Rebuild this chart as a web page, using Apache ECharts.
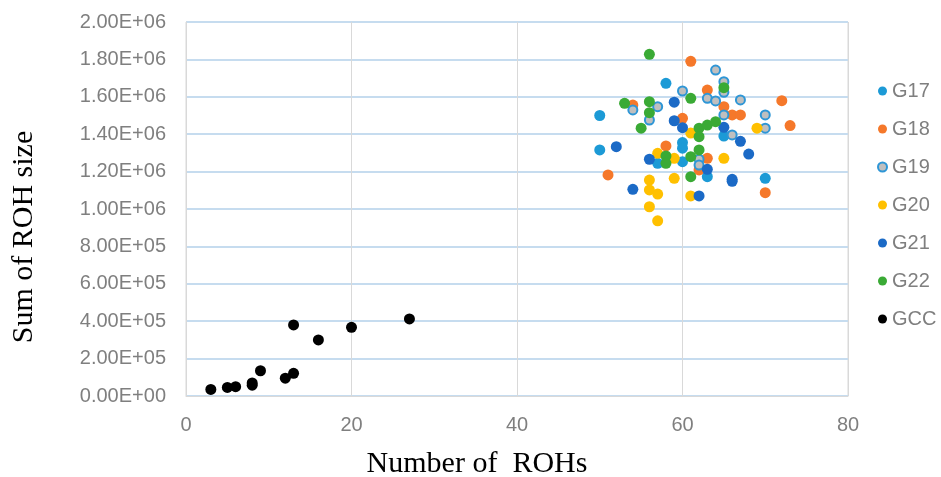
<!DOCTYPE html>
<html><head><meta charset="utf-8">
<script src="https://cdn.jsdelivr.net/npm/echarts@6/dist/echarts.min.js"></script>
<style>html,body{margin:0;padding:0;background:#fff}#c{width:941px;height:477px}</style>
</head><body><div id="c"></div>
<script>
const seriesNames = ['G17','G18','G19','G20','G21','G22','GCC'];
const G17 = [[58,1.672e6],[50,1.5e6],[50,1.316e6],[60,1.355e6],[60,1.325e6],[57,1.244e6],[60,1.253e6],[65,1.39e6],[63,1.173e6],[70,1.164e6]];
const G18 = [[61,1.79e6],[54,1.556e6],[60,1.485e6],[63,1.636e6],[65,1.547e6],[66,1.503e6],[67,1.503e6],[72,1.579e6],[73,1.446e6],[58,1.337e6],[51,1.182e6],[63,1.271e6],[62,1.209e6],[70,1.087e6]];
const G19 = [[54,1.53e6],[57,1.547e6],[56,1.476e6],[60,1.631e6],[64,1.743e6],[65,1.681e6],[65,1.624e6],[63,1.592e6],[64,1.578e6],[67,1.583e6],[65,1.503e6],[70,1.503e6],[70,1.432e6],[66,1.396e6],[62,1.266e6],[62,1.235e6]];
const G20 = [[61,1.406e6],[57,1.298e6],[59,1.271e6],[56,1.155e6],[56,1.102e6],[57,1.08e6],[56,1.012e6],[57,0.937e6],[59,1.164e6],[61,1.07e6],[65,1.271e6],[69,1.432e6]];
const G21 = [[59,1.571e6],[59,1.472e6],[60,1.435e6],[65,1.437e6],[67,1.362e6],[52,1.333e6],[56,1.266e6],[54,1.105e6],[62,1.07e6],[63,1.212e6],[68,1.294e6],[66,1.159e6],[66,1.148e6]];
const G22 = [[56,1.827e6],[61,1.592e6],[53,1.565e6],[56,1.574e6],[56,1.515e6],[55,1.432e6],[62,1.432e6],[63,1.449e6],[64,1.467e6],[65,1.649e6],[58,1.284e6],[58,1.244e6],[61,1.28e6],[62,1.316e6],[62,1.387e6],[61,1.173e6]];
const GCC = [[3,3.5e4],[5,4.6e4],[6,5e4],[8,5.8e4],[8,7e4],[9,1.35e5],[12,9.5e4],[13,1.21e5],[13,3.8e5],[16,3.0e5],[20,3.67e5],[27,4.12e5]];
const xTitle = 'Number of  ROHs';
const yTitle = 'Sum of ROH size';

const dataSets = [G17,G18,G19,G20,G21,G22,GCC];
const colors = ['#1c9ad6','#f5782a','#bfbfbf','#ffc000','#1b6ac6','#3aaa35','#000000'];

function fmtE(v){
  let s = Number(v).toExponential(2).toUpperCase();
  return s.replace(/E([+-])(\d)$/, 'E$10$2');
}

const chart = echarts.init(document.getElementById('c'));
chart.setOption({
  animation:false,
  backgroundColor:'#fff',
  grid:{left:186,right:93,top:22,bottom:81,outerBoundsMode:'none',containLabel:false,show:true,borderColor:'#d9d9d9',borderWidth:1},
  legend:{
    orient:'vertical', left:872, top:76, itemWidth:9, itemHeight:9, itemGap:18,
    data:seriesNames,
    textStyle:{fontFamily:'Liberation Sans',fontSize:20,color:'#7f7f7f',lineHeight:20}
  },
  xAxis:{
    type:'value', min:0, max:80, interval:20,
    name:xTitle, nameLocation:'middle', nameGap:53,
    nameTextStyle:{fontFamily:'Liberation Serif',fontSize:30,color:'#000',padding:[0,80,0,0]},
    axisLine:{show:true,lineStyle:{color:'#d9d9d9'}},
    axisTick:{show:false},
    axisLabel:{fontFamily:'Liberation Sans',fontSize:20,color:'#7f7f7f',margin:19},
    splitLine:{show:true,lineStyle:{color:'#d9d9d9',width:1}}
  },
  yAxis:{
    type:'value', min:0, max:2e6, interval:2e5,
    name:yTitle, nameLocation:'middle', nameGap:147,
    nameTextStyle:{fontFamily:'Liberation Serif',fontSize:30,color:'#000',padding:[0,56,0,0]},
    axisLine:{show:true,lineStyle:{color:'#d9d9d9'}},
    axisTick:{show:false},
    axisLabel:{fontFamily:'Liberation Sans',fontSize:20,color:'#7f7f7f',margin:20,formatter:fmtE},
    splitLine:{show:true,lineStyle:{color:'#c6dcef',width:2}}
  },
  series: seriesNames.map((n,i)=>({
    name:n, type:'scatter', data:dataSets[i],
    symbol:'circle',
    symbolSize: n==='G19' ? 9 : 11,
    itemStyle: n==='G19' ? {color:colors[i],borderColor:'#2e96d6',borderWidth:2,opacity:1} : {color:colors[i],opacity:1}
  }))
});
</script></body></html>
